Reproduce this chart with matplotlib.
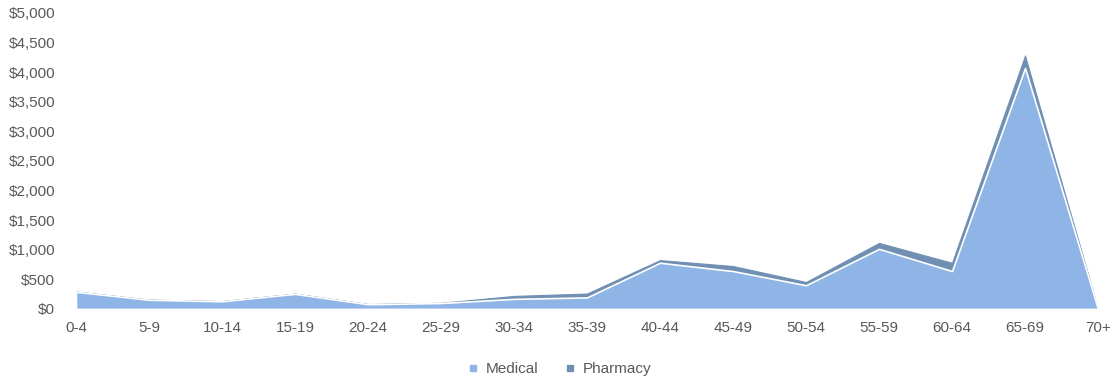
import matplotlib
matplotlib.use("Agg")
import matplotlib.pyplot as plt
from matplotlib.lines import Line2D
from matplotlib.ticker import FuncFormatter

plt.rcParams["font.family"] = ["Liberation Sans", "DejaVu Sans"]

age_groups = ["0-4", "5-9", "10-14", "15-19", "20-24", "25-29", "30-34", "35-39",
              "40-44", "45-49", "50-54", "55-59", "60-64", "65-69", "70+"]
medical = [290, 155, 130, 255, 80, 100, 170, 195, 780, 640, 400, 1015, 640, 4070, 0]
pharmacy = [4, 3, 3, 4, 3, 4, 50, 65, 45, 85, 55, 100, 140, 210, 0]

medical_color = "#8FB4E6"
pharmacy_color = "#7090B3"
text_color = "#595959"

fig = plt.figure(figsize=(11.17, 3.8), dpi=100)
ax = fig.add_axes([0.068, 0.187, 0.915, 0.779])

x = range(len(age_groups))
polys = ax.stackplot(x, medical, pharmacy, colors=[medical_color, pharmacy_color])
polys[0].set_edgecolor("white")
polys[0].set_linewidth(1.2)
polys[0].set_zorder(3)
polys[1].set_edgecolor(pharmacy_color)
polys[1].set_linewidth(0.8)

ax.set_xlim(0, len(age_groups) - 1)
ax.set_ylim(0, 5000)
ax.set_yticks(range(0, 5001, 500))
ax.yaxis.set_major_formatter(FuncFormatter(lambda v, p: f"${v:,.0f}"))
ax.set_xticks(list(x))
ax.set_xticklabels(age_groups)

for side in ["top", "right", "left"]:
    ax.spines[side].set_visible(False)
ax.spines["bottom"].set_color("#D9D9D9")
ax.tick_params(axis="both", length=0, labelsize=11, colors=text_color)
ax.tick_params(axis="y", pad=15)
ax.tick_params(axis="x", pad=9)

handles = [
    Line2D([], [], marker="s", linestyle="none", markersize=4,
           markerfacecolor=medical_color, markeredgecolor=medical_color, label="Medical"),
    Line2D([], [], marker="s", linestyle="none", markersize=4,
           markerfacecolor=pharmacy_color, markeredgecolor=pharmacy_color, label="Pharmacy"),
]
fig.legend(handles=handles, loc="center", bbox_to_anchor=(0.5, 0.028), ncol=2,
           frameon=False, fontsize=11, labelcolor=text_color,
           handletextpad=0.3, columnspacing=1.6, handlelength=1.0)

fig.savefig("out.png", dpi=100)
